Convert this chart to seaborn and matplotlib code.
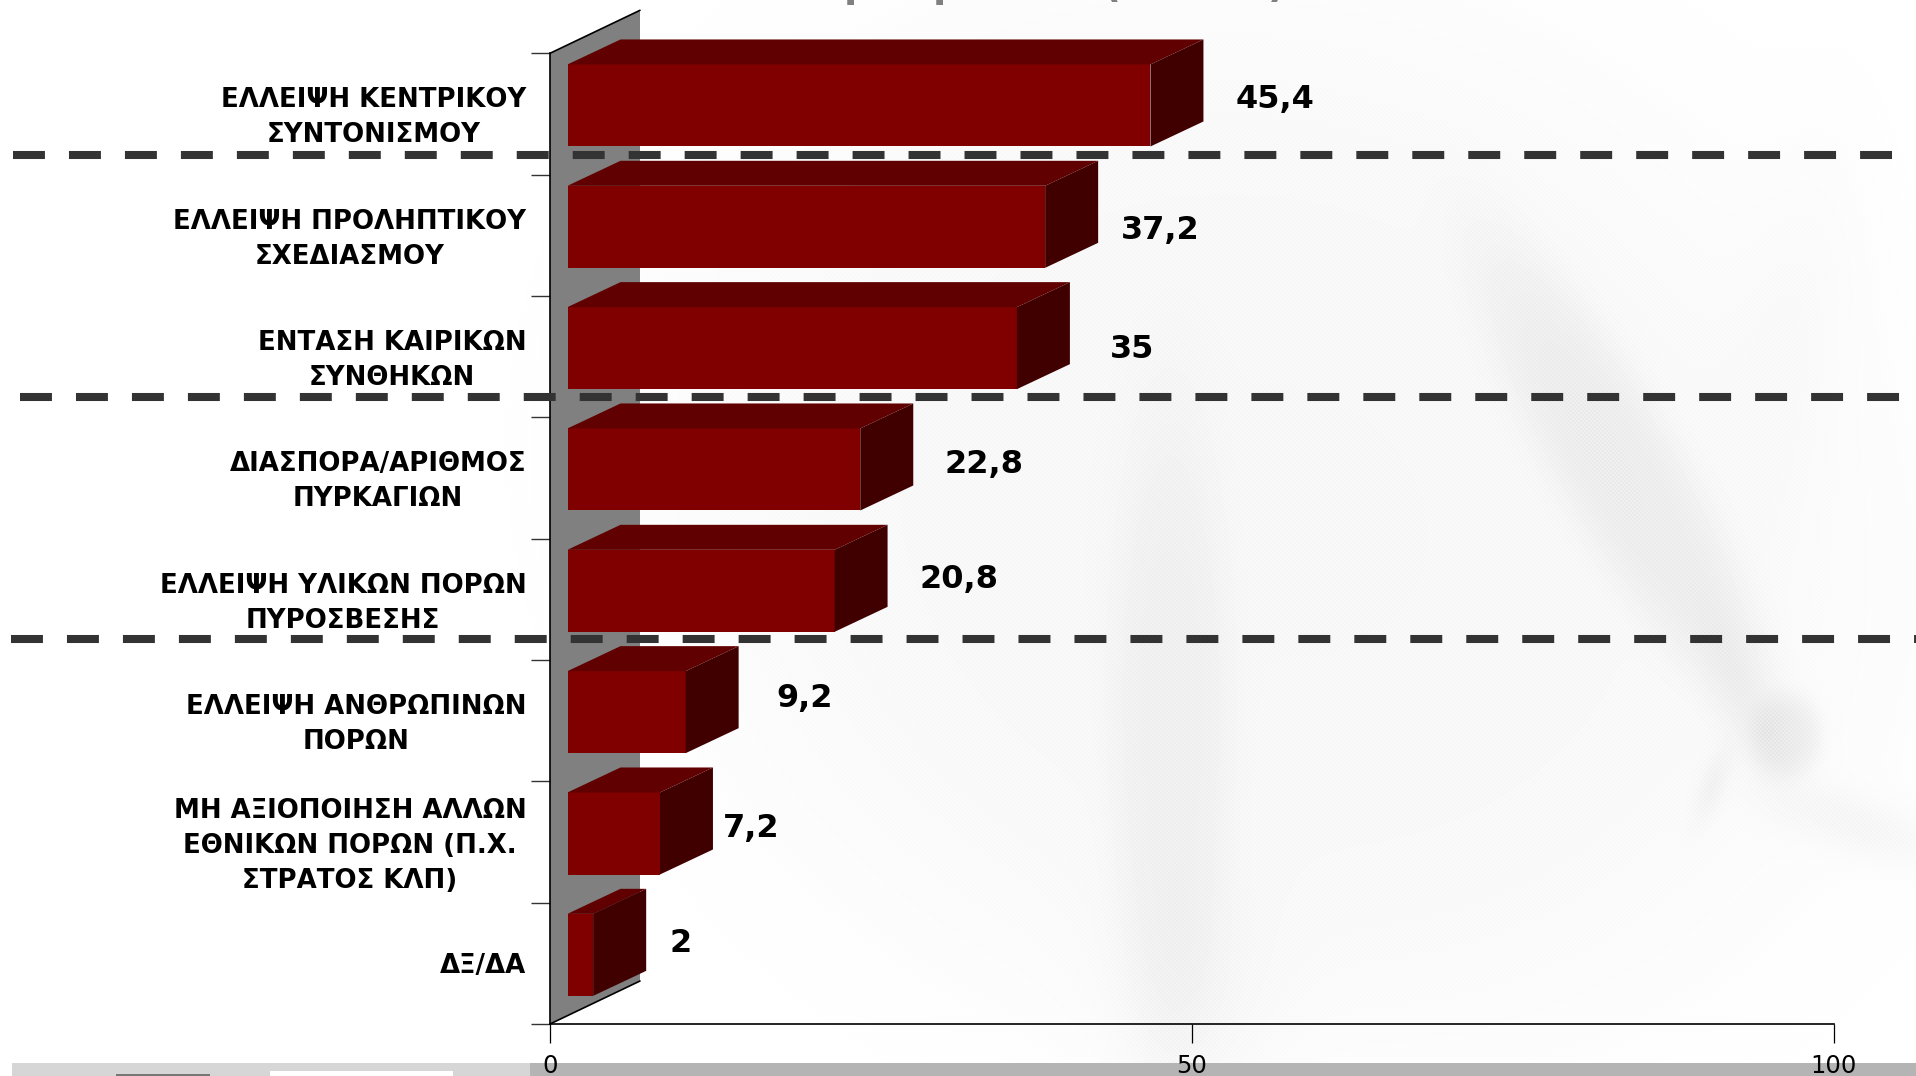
import numpy as np
import matplotlib
matplotlib.use("Agg")
import matplotlib.pyplot as plt
import seaborn as sns
from matplotlib.patches import Polygon, Rectangle
from matplotlib.transforms import Affine2D, IdentityTransform

# === DATA ===
categories = [
    "ΕΛΛΕΙΨΗ ΚΕΝΤΡΙΚΟΥ\nΣΥΝΤΟΝΙΣΜΟΥ",
    "ΕΛΛΕΙΨΗ ΠΡΟΛΗΠΤΙΚΟΥ\nΣΧΕΔΙΑΣΜΟΥ",
    "ΕΝΤΑΣΗ ΚΑΙΡΙΚΩΝ\nΣΥΝΘΗΚΩΝ",
    "ΔΙΑΣΠΟΡΑ/ΑΡΙΘΜΟΣ\nΠΥΡΚΑΓΙΩΝ",
    "ΕΛΛΕΙΨΗ ΥΛΙΚΩΝ ΠΟΡΩΝ\nΠΥΡΟΣΒΕΣΗΣ",
    "ΕΛΛΕΙΨΗ ΑΝΘΡΩΠΙΝΩΝ\nΠΟΡΩΝ",
    "ΜΗ ΑΞΙΟΠΟΙΗΣΗ ΑΛΛΩΝ\nΕΘΝΙΚΩΝ ΠΟΡΩΝ (Π.Χ.\nΣΤΡΑΤΟΣ ΚΛΠ)",
    "ΔΞ/ΔΑ",
]
values = [45.4, 37.2, 35, 22.8, 20.8, 9.2, 7.2, 2]
x_ticks = [0, 50, 100]

# label offsets from bar end, in pixels (the original labels are placed by hand)
label_dx = [142, 133, 133, 141, 142, 136, 109, 105]
label_dy = [14, 5, 7, 13, 20, 22, 13, 20]

# === CONFIGURATION ===
W, H = 1916, 1076
AX_LEFT, AX_RIGHT, AX_TOP, AX_BOTTOM = 550, 1834, 53.3, 1024
WALL_DX, WALL_DY = 90, 43
BAR_DX, BAR_DY = 17.5, 8.5
DEPTH_DX, DEPTH_DY = 53, 25
FRONT, TOP, SIDE = "#800000", "#600000", "#400000"

sns.set_style("white")
plt.rcParams["font.family"] = ["DejaVu Sans"]

fig = plt.figure(figsize=(W / 100, H / 100), dpi=100, facecolor="white")


def full_axes(zorder):
    a = fig.add_axes([0, 0, 1, 1], zorder=zorder)
    a.set_xlim(0, W)
    a.set_ylim(H, 0)
    a.axis("off")
    return a


back = full_axes(0)
front = full_axes(2)

# === WATERMARK ===
yy, xx = np.mgrid[0:H, 0:W].astype(float)


def blob(cx, cy, sx, sy, angle, amp, power=1):
    t = np.deg2rad(angle)
    u = (xx - cx) * np.cos(t) + (yy - cy) * np.sin(t)
    v = -(xx - cx) * np.sin(t) + (yy - cy) * np.cos(t)
    return amp * np.exp(-(((u / sx) ** 2 + (v / sy) ** 2) ** power))


shade = blob(1270, 520, 640, 540, 20, 9, 2)
shade += blob(1170, 720, 60, 320, 0, 9, 2)
shade += blob(1190, 1000, 80, 130, 0, 6)
shade += blob(1620, 470, 62, 270, -30, 13, 2)
shade += blob(1740, 690, 28, 90, -20, 8)
shade += blob(1785, 735, 36, 42, 0, 15, 2)
shade += blob(1712, 785, 13, 40, 20, 9)
shade += blob(1860, 825, 90, 30, 20, 8)
shade += blob(1800, 300, 60, 200, 10, 3)
shade *= 1 - 0.25 * ((np.arange(H)[:, None] % 4 < 2) ^ (np.arange(W)[None, :] % 4 < 2))
back.imshow(255 - shade, cmap="gray", vmin=0, vmax=255, extent=(0, W, H, 0), aspect="auto", zorder=0)
back.set_xlim(0, W)
back.set_ylim(H, 0)

# === WALL ===
back.add_patch(Polygon([(AX_LEFT, AX_TOP), (AX_LEFT + WALL_DX, AX_TOP - WALL_DY),
                        (AX_LEFT + WALL_DX, AX_BOTTOM - WALL_DY), (AX_LEFT, AX_BOTTOM)],
                       facecolor="#808080", edgecolor="none", zorder=1))
back.plot([AX_LEFT, AX_LEFT + WALL_DX], [AX_TOP, AX_TOP - WALL_DY], color="black", lw=1.2, zorder=2)
back.plot([AX_LEFT, AX_LEFT + WALL_DX], [AX_BOTTOM, AX_BOTTOM - WALL_DY], color="black", lw=1.2, zorder=2)

# === BARS ===
ax = fig.add_axes([AX_LEFT / W, 1 - AX_BOTTOM / H, (AX_RIGHT - AX_LEFT) / W, (AX_BOTTOM - AX_TOP) / H], zorder=1)
ax.patch.set_alpha(0)
sns.barplot(x=values, y=categories, orient="h", color=FRONT, saturation=1, width=0.676, ax=ax)
ax.set_xlim(0, 100)
ax.set_ylim(len(categories) - 0.5, -0.5)
ax.set_xlabel("")
ax.set_ylabel("")

shift = Affine2D().translate(BAR_DX, BAR_DY)
for p in list(ax.patches):
    (x0, y0), (x1, y1) = ax.transData.transform([(p.get_x(), p.get_y() + p.get_height()),
                                                  (p.get_x() + p.get_width(), p.get_y())])
    x0, x1 = x0 + BAR_DX, x1 + BAR_DX
    y0, y1 = y0 + BAR_DY, y1 + BAR_DY
    p.set_transform(ax.transData + shift)
    p.set_edgecolor("none")
    p.set_clip_on(False)
    ax.add_patch(Polygon([(x0, y1), (x0 + DEPTH_DX, y1 + DEPTH_DY), (x1 + DEPTH_DX, y1 + DEPTH_DY), (x1, y1)],
                         facecolor=TOP, edgecolor="none", transform=IdentityTransform(), clip_on=False))
    ax.add_patch(Polygon([(x1, y0), (x1 + DEPTH_DX, y0 + DEPTH_DY), (x1 + DEPTH_DX, y1 + DEPTH_DY), (x1, y1)],
                         facecolor=SIDE, edgecolor="none", transform=IdentityTransform(), clip_on=False))

# === AXES ===
sns.despine(ax=ax, top=True, right=True)
for side in ["left", "bottom"]:
    ax.spines[side].set_color("black")
    ax.spines[side].set_linewidth(1.2)
ax.set_xticks(x_ticks)
ax.tick_params(axis="x", length=14, width=0.9, color="black", pad=7.5, labelsize=17.5, labelcolor="black", bottom=True)
ax.tick_params(axis="y", which="major", length=0, pad=17)
ax.set_yticks(np.arange(len(categories) + 1) - 0.5, minor=True)
ax.tick_params(axis="y", which="minor", length=14, width=1.0, color="#333333", left=True)
for lab in ax.get_yticklabels():
    lab.set_fontsize(18.7)
    lab.set_fontweight("bold")
    lab.set_color("black")
    lab.set_multialignment("center")
    lab.set_linespacing(1.45)
    # extra line spacing pushes wrapped labels down, bring them back up
    if "\n" in lab.get_text():
        lab.set_transform(lab.get_transform() + Affine2D().translate(0, 3.5))

# === VALUE LABELS ===
for i, v in enumerate(values):
    ax.annotate(f"{v:g}".replace(".", ","), xy=(v, i), xytext=(label_dx[i] * 0.72, label_dy[i] * 0.72),
                textcoords="offset points", ha="center", va="center",
                fontsize=23, fontweight="bold", color="black", annotation_clip=False, zorder=5)

# === DASHED SEPARATORS ===
DASH_LW = 5.8  # 8 px
for y, x0, x1 in [(155, 13, 1896), (397, 20, 1903), (639, 11, 1916)]:
    front.plot([x0, x1], [y, y], color="#333333", lw=DASH_LW, dashes=(23 / DASH_LW, 17.3 / DASH_LW),
               dash_capstyle="butt", solid_capstyle="butt")

# === CUT-OFF TITLE AND BOTTOM STRIP ===
for ch, x in [("ρ", 858), ("ρ", 947), ("(", 1112), (")", 1277)]:
    front.text(x, -3, ch, ha="center", va="baseline", fontsize=28, fontweight="bold", color="#808080", clip_on=True)

back.add_patch(Rectangle((12, 1063), 518, 13, facecolor="#d6d6d6", edgecolor="none", zorder=3))
back.add_patch(Rectangle((530, 1063), W - 530, 13, facecolor="#b4b4b4", edgecolor="none", zorder=3))
back.add_patch(Rectangle((116, 1074), 94, 2, facecolor="#777777", edgecolor="none", zorder=4))
back.add_patch(Rectangle((270, 1071), 183, 5, facecolor="white", edgecolor="none", zorder=4))

fig.savefig("out.png", dpi=100, facecolor="white")
plt.close()
